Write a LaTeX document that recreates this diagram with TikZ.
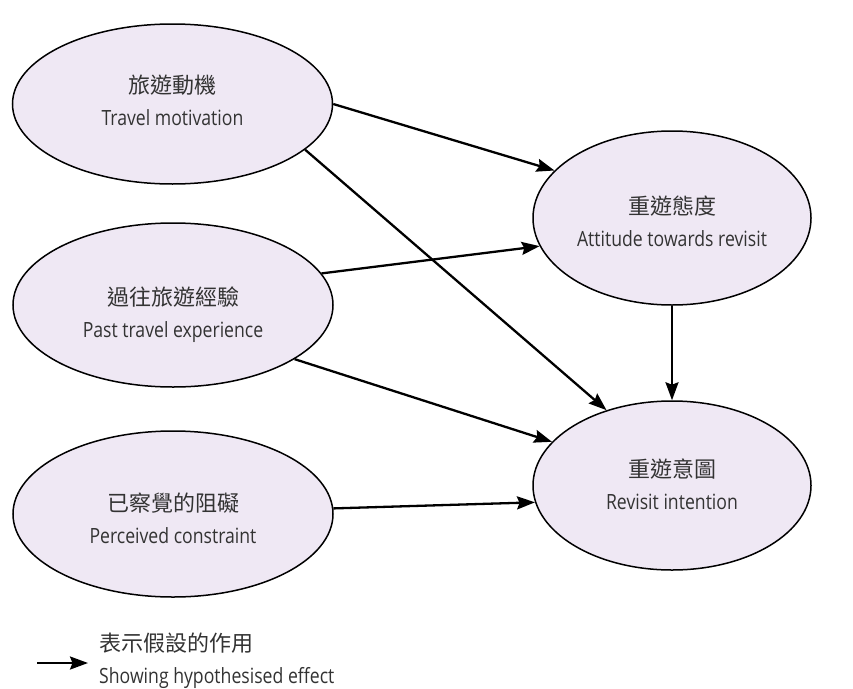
\documentclass[tikz,border=0pt]{standalone}
\usepackage{fontspec}
\setmainfont{Open Sans}[FakeStretch=0.84]
\newfontfamily\cjkfont{Noto Sans CJK TC}
\usetikzlibrary{shapes.geometric,arrows.meta}
\definecolor{ellfill}{HTML}{EFE8F4}
\definecolor{txtcol}{HTML}{333333}
\newcommand\zhtext[1]{{\cjkfont\fontsize{22}{31}\selectfont #1}}
\tikzset{
  var/.style={ellipse, draw=black, line width=1.5pt, fill=ellfill, inner sep=0pt},
  leftvar/.style={var, minimum width=320pt, minimum height=162pt},
  rightvar/.style={var, minimum width=278pt, minimum height=170pt},
  lbl/.style={align=center, inner sep=0pt, text=txtcol, font=\fontsize{21}{32}\selectfont},
  hyp/.style={line width=2.3pt, -{Stealth[length=18pt,width=13pt,inset=2.5pt]}},
}
\begin{document}
\begin{tikzpicture}[x=1pt,y=-1pt]
\useasboundingbox (0,0) rectangle (853,688);
\node[leftvar, minimum height=160pt] (tm) at (172.5,104) {};
\node[leftvar, minimum height=164pt] (pte) at (173,305) {};
\node[leftvar, minimum height=166pt] (pc) at (173,514) {};
\node[rightvar, minimum height=174pt] (att) at (672,218) {};
\node[rightvar, minimum height=169pt] (ri) at (672,485.5) {};
\node[lbl] (tm-t) at (172.5,100.5) {\zhtext{旅遊動機}\\Travel motivation};
\node[lbl] (pte-t) at (173,314.5) {\zhtext{過往旅遊經驗}\\Past travel experience};
\node[lbl] (pc-t) at (173,518) {\zhtext{已察覺的阻礙}\\Perceived constraint};
\node[lbl] (att-t) at (672,221) {\zhtext{重遊態度}\\Attitude towards revisit};
\node[lbl] (ri-t) at (672,484) {\zhtext{重遊意圖}\\Revisit intention};
\draw[hyp] (tm.0) -- (att.158);
\draw[hyp] (tm.-19.4) -- (ri.131.5);
\draw[hyp] (pte.12) -- (att.192.5);
\draw[hyp] (pte.-24.7) -- (ri.160.4);
\draw[hyp] (pc.2.5) -- (ri.187.1);
\draw[hyp] (att.south) -- (ri.north);
\coordinate (legS) at (37,663);
\coordinate (legE) at (88,663);
\draw[hyp] (legS) -- (legE);
\node[lbl, anchor=west, align=left] (legtxt) at (99,661) {\zhtext{表示假設的作用}\\Showing hypothesised effect};
\end{tikzpicture}
\end{document}
